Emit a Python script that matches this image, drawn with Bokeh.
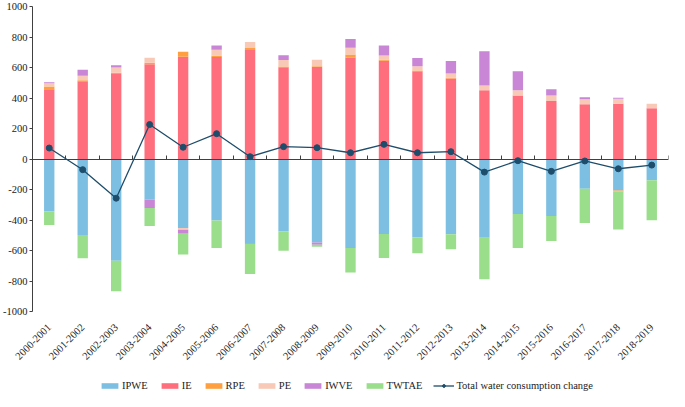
import math
from bokeh.plotting import figure
from bokeh.layouts import column
from bokeh.models import Range1d, LinearAxis, FixedTicker, Legend, LegendItem, ColumnDataSource
from bokeh.embed import file_html
from bokeh.resources import INLINE

years = ["2000-2001", "2001-2002", "2002-2003", "2003-2004", "2004-2005",
         "2005-2006", "2006-2007", "2007-2008", "2008-2009", "2009-2010",
         "2010-2011", "2011-2012", "2012-2013", "2013-2014", "2014-2015",
         "2015-2016", "2016-2017", "2017-2018", "2018-2019"]

IPWE = [-345, -498, -667, -266, -452, -404, -552, -474, -547, -584,
        -491, -513, -493, -516, -360, -373, -195, -206, -140]
IE = [458, 510, 563, 622, 671, 669, 715, 601, 603, 666,
      645, 576, 528, 451, 416, 381, 359, 362, 333]
RPE = [17, 7, 3, 9, 33, 8, 13, 6, 6, 20,
       6, 4, 5, 0, 0, 0, 0, -7, 0]
PE = [22, 29, 34, 33, -12, 40, 39, 42, 42, 44,
      27, 29, 28, 31, 35, 35, 33, 33, 29]
IWVE = [7, 39, 14, -55, -26, 28, -6, 31, -16, 57,
        67, 53, 81, 224, 125, 42, 13, 6, 0]
TWTAE = [-87, -153, -201, -118, -136, -179, -196, -127, -13, -160,
         -158, -105, -99, -272, -224, -165, -224, -250, -262]
TOTAL = [72, -70, -257, 226, 77, 166, 15, 81, 74, 41,
         96, 41, 48, -86, -11, -81, -13, -64, -40]

series_names = ["IPWE", "IE", "RPE", "PE", "IWVE", "TWTAE"]
series_values = [IPWE, IE, RPE, PE, IWVE, TWTAE]
series_colors = ["#7DBFE2", "#FF6E7C", "#FF9F3F", "#F8C9B6", "#C985D6", "#9ADE8C"]
line_name = "Total water consumption change"
line_color = "#1E4D6B"

y_ticks = [-1000, -800, -600, -400, -200, 0, 200, 400, 600, 800, 1000]

FONT = "Liberation Serif"
n = len(years)
centers = [i + 0.5 for i in range(n)]
bounds = list(range(n + 1))

W = 669
p = figure(width=W, height=365, output_backend="svg", toolbar_location=None,
           x_range=Range1d(0, n), y_range=Range1d(y_ticks[0], y_ticks[-1]),
           x_axis_location=None, y_axis_location=None,
           min_border_left=26, min_border_right=1, min_border_top=6, min_border_bottom=52)
p.outline_line_color = None
p.xgrid.visible = False
p.ygrid.visible = False
p.background_fill_color = "white"
p.border_fill_color = "white"

# stacked bars
pos_base = [0.0] * n
neg_base = [0.0] * n
sources = []
for name, vals, col in zip(series_names, series_values, series_colors):
    bottoms, tops = [], []
    for i, v in enumerate(vals):
        if v >= 0:
            bottoms.append(pos_base[i]); tops.append(pos_base[i] + v); pos_base[i] += v
        else:
            bottoms.append(neg_base[i]); tops.append(neg_base[i] + v); neg_base[i] += v
    src = ColumnDataSource(dict(x=centers, bottom=bottoms, top=tops))
    sources.append(src)
    p.vbar(x="x", width=0.31, bottom="bottom", top="top", source=src,
           fill_color=col, line_color=None)

# total line
tsrc = ColumnDataSource(dict(x=centers, y=TOTAL))
p.line("x", "y", source=tsrc, line_color=line_color, line_width=1.3)
p.scatter("x", "y", source=tsrc, size=6, fill_color=line_color, line_color=line_color)

# y axis
yax = LinearAxis(ticker=FixedTicker(ticks=y_ticks),
                 major_label_overrides={t: str(t) for t in y_ticks})
yax.axis_line_color = "#404040"
yax.major_tick_line_color = "#404040"
yax.major_tick_out = 3
yax.major_tick_in = 0
yax.minor_tick_line_color = None
yax.major_label_standoff = 2
yax.major_label_text_font = FONT
yax.major_label_text_font_size = "10.5px"
yax.major_label_text_color = "#222222"
p.add_layout(yax, "left")

# zero axis with category boundary ticks
zax = LinearAxis(ticker=FixedTicker(ticks=bounds), fixed_location=0,
                 major_label_overrides={b: "" for b in bounds})
zax.axis_line_color = "#404040"
zax.major_tick_line_color = "#404040"
zax.major_tick_in = 4
zax.major_tick_out = 0
zax.minor_tick_line_color = None
zax.major_label_standoff = 0
zax.major_label_text_font_size = "0px"
p.add_layout(zax, "below")

# category labels at bottom
xax = LinearAxis(ticker=FixedTicker(ticks=centers),
                 major_label_overrides={c: y for c, y in zip(centers, years)})
xax.axis_line_color = None
xax.major_tick_line_color = None
xax.minor_tick_line_color = None
xax.major_label_orientation = math.pi / 4
xax.major_label_standoff = 8
xax.major_label_text_font = FONT
xax.major_label_text_font_size = "10.5px"
xax.major_label_text_color = "#222222"
p.add_layout(xax, "below")

# legend strip below the chart (its glyphs use the same data, kept out of view)
lf = figure(width=W, height=26, output_backend="svg", toolbar_location=None,
            x_range=Range1d(-30, -29), y_range=Range1d(5000, 5001),
            x_axis_location=None, y_axis_location=None,
            min_border_left=0, min_border_right=0, min_border_top=0, min_border_bottom=0)
lf.outline_line_color = None
lf.xgrid.visible = False
lf.ygrid.visible = False

items = []
for nm, col, src in zip(series_names, series_colors, sources):
    r = lf.vbar(x="x", width=0.3, bottom="bottom", top="top", source=src,
                fill_color=col, line_color=None)
    items.append(LegendItem(label=nm, renderers=[r]))
lr = lf.line("x", "y", source=tsrc, line_color=line_color, line_width=1.3)
sr = lf.scatter("x", "y", source=tsrc, size=5, fill_color=line_color, line_color=line_color)
items.append(LegendItem(label=line_name, renderers=[lr, sr]))

legend = Legend(items=items, orientation="horizontal", location=(67, 0))
legend.glyph_width = 21
legend.glyph_height = 7
legend.label_standoff = 2
legend.label_width = 0
legend.spacing = 11
legend.padding = 0
legend.margin = 0
legend.label_height = 10
legend.border_line_color = None
legend.background_fill_alpha = 0
legend.label_text_font = FONT
legend.label_text_font_size = "10.5px"
legend.label_text_color = "#222222"
lf.add_layout(legend, "center")

layout = column(p, lf, spacing=0)
open("out.html", "w").write(file_html(layout, INLINE))
